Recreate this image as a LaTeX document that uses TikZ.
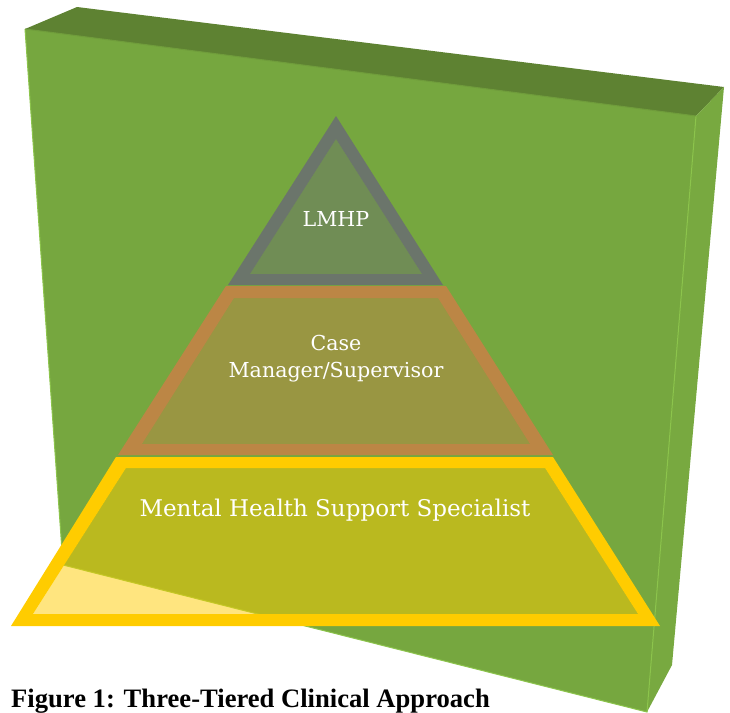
\documentclass[tikz,border=0pt]{standalone}
\usepackage{fontspec}
\setmainfont{DejaVu Serif}
\newfontfamily\captionfont{Liberation Serif}
\definecolor{boxfront}{HTML}{76A73F}
\definecolor{boxtop}{HTML}{5E8232}
\definecolor{boxside}{HTML}{78A940}
\definecolor{boxedge}{HTML}{8CC44C}
\definecolor{tiergray}{HTML}{6B756B}
\definecolor{tierorange}{HTML}{BC8645}
\definecolor{tieryellow}{HTML}{FFCC00}
\tikzset{
  ring/.style={fill=#1, even odd rule},
  tint/.style={fill=#1, fill opacity=.5},
  tierlabel/.style={text=white, align=center, inner sep=0pt, font=\fontsize{#1}{27}\selectfont},
}

\begin{document}
\begin{tikzpicture}[x=1pt,y=-1pt]
  \useasboundingbox (0,0) rectangle (730,712);
  \coordinate (ftl) at (25,29);
  \coordinate (ftr) at (696,116);
  \coordinate (fbr) at (647,712);
  \coordinate (fbl) at (63,565);
  \coordinate (btl) at (77,7);
  \coordinate (btr) at (724,87);
  \coordinate (bbr) at (672,665);
  \fill[boxtop] (ftl) -- (btl) -- (btr) -- (ftr) -- cycle;
  \fill[boxside] (ftr) -- (btr) -- (bbr) -- (fbr) -- cycle;
  \fill[boxfront] (ftl) -- (ftr) -- (fbr) -- (fbl) -- cycle;
  \draw[boxedge, line width=1pt] (ftl) -- (fbl) -- (fbr) -- (ftr);
  \draw[boxfront!70!boxtop, line width=1pt] (ftl) -- (ftr);

  \fill[tint=tieryellow] (126,468) -- (545,468) -- (638,614) -- (33,614) -- cycle;
  \fill[ring=tieryellow] (116,457) -- (553,457) -- (660,626) -- (11,626) -- cycle
                         (126,468) -- (545,468) -- (638,614) -- (33,614) -- cycle;
  \fill[tint=tierorange] (234,298) -- (438,298) -- (530,444) -- (142,444) -- cycle;
  \fill[ring=tierorange] (226,286) -- (446,286) -- (553,455) -- (118,455) -- cycle
                         (234,298) -- (438,298) -- (530,444) -- (142,444) -- cycle;
  \fill[tint=tiergray] (336,139) -- (422,274) -- (250,274) -- cycle;
  \fill[ring=tiergray] (336,116) -- (443,285) -- (228,285) -- cycle
                       (336,139) -- (422,274) -- (250,274) -- cycle;

  \node[tierlabel=20.6, anchor=base] (lmhp) at (336,226) {LMHP};
  \node[tierlabel=20.6] (casemgr) at (336,359) {Case\\Manager/Supervisor};
  \node[tierlabel=23, anchor=base] (mhss) at (335,516) {Mental Health Support Specialist};
  \node[anchor=base west, inner sep=0pt, font=\captionfont\bfseries\fontsize{26.6}{26.6}\selectfont] (caption) at (11,707) {Figure 1: Three-Tiered Clinical Approach};
\end{tikzpicture}
\end{document}
